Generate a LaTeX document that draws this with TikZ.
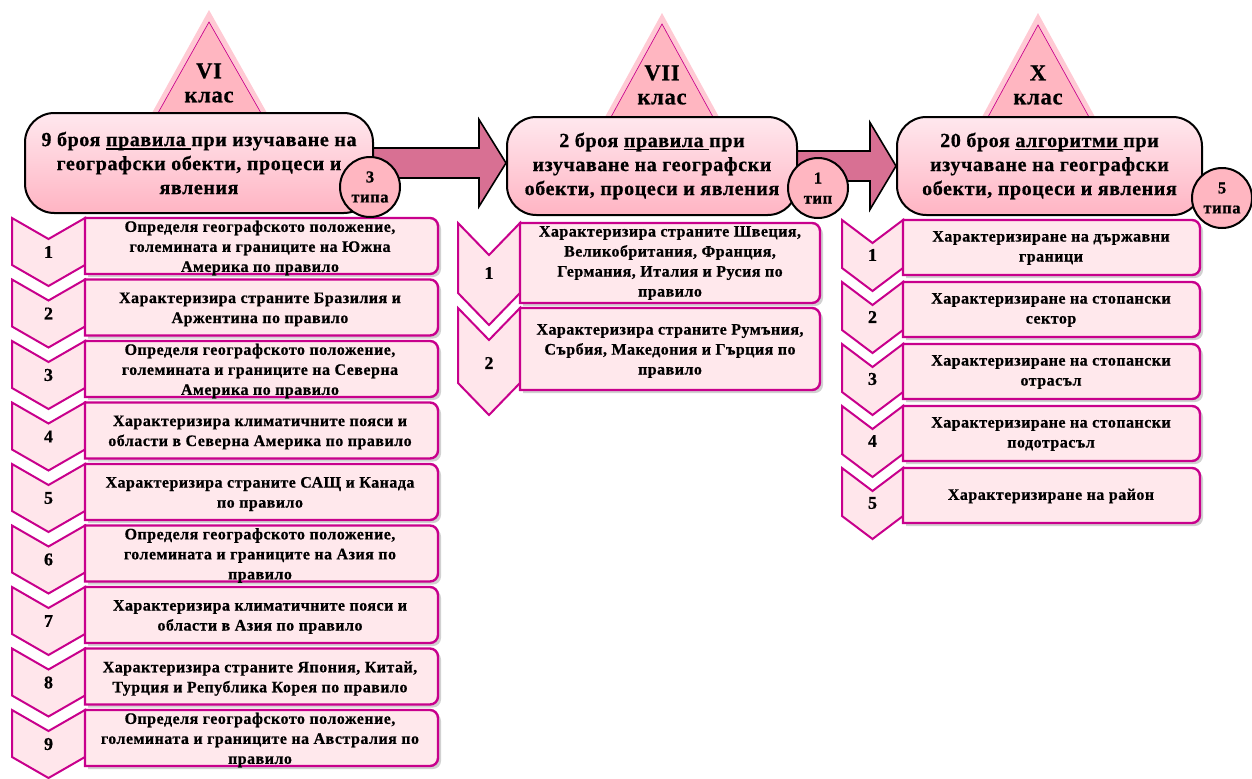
\documentclass[tikz,border=0pt]{standalone}
\usepackage{fontspec}
\setmainfont{Liberation Serif}
\newfontfamily\lsp[LetterSpace=3, BoldFeatures={FakeBold=0.6}]{Liberation Serif}
\newfontfamily\nsp[BoldFeatures={FakeBold=0.6}]{Liberation Serif}
\usetikzlibrary{calc}
\pgfdeclarelayer{bg}
\pgfsetlayers{bg,main}
\definecolor{mag}{HTML}{C8008C}
\definecolor{itemfill}{HTML}{FFE8EC}
\definecolor{chevfill}{HTML}{FFE6EB}
\definecolor{trifill}{HTML}{FFB6C1}
\definecolor{triglowc}{HTML}{FFCAD4}
\definecolor{hdrtop}{HTML}{FFE8EE}
\definecolor{hdrbot}{HTML}{FFB4C3}
\definecolor{circfill}{HTML}{FFB6C1}
\definecolor{arrowc}{HTML}{D87093}
\newcommand\itemfont{\lsp\bfseries\fontsize{12}{15}\selectfont}
\newcommand\hdrfont{\lsp\bfseries\fontsize{15}{18}\selectfont}
\newcommand\trifont{\lsp\bfseries\fontsize{17}{18}\selectfont}
\newcommand\circfont{\lsp\bfseries\fontsize{12.5}{15}\selectfont}
\newcommand\numfont{\nsp\bfseries\fontsize{13.5}{14}\selectfont}
\newcommand\ulx[1]{\setbox0\hbox{#1}\rlap{\rule[-2.6pt]{\wd0}{1.1pt}}\box0}
\newcommand\chev[5]{\draw[chevs] (#1,{-(#3)}) -- ({(#1+#2)/2},{-(#3)-(#5)}) -- (#2,{-(#3)}) -- (#2,{-(#3)-(#4)}) -- ({(#1+#2)/2},{-(#3)-(#4)-(#5)}) -- (#1,{-(#3)-(#4)}) -- cycle;}
\newcommand\ibox[4]{%
 \fill[ishadow] ({#1+3},{-(#2)-3}) -- ({#3+3-8},{-(#2)-3}) arc[start angle=90,end angle=0,radius=8] -- ({#3+3},{-(#4)-3+8}) arc[start angle=0,end angle=-90,radius=8] -- ({#1+3},{-(#4)-3}) -- cycle;
 \draw[iboxs] (#1,{-(#2)}) -- ({#3-8},{-(#2)}) arc[start angle=90,end angle=0,radius=8] -- (#3,{-(#4)+8}) arc[start angle=0,end angle=-90,radius=8] -- (#1,{-(#4)}) -- cycle;}
\begin{document}
\begin{tikzpicture}[x=0.75pt,y=0.75pt,
  tri/.style={fill=trifill, draw=mag, line width=0.5pt},
  triglow/.style={fill=triglowc},
  hdr/.style={draw=black, line width=1.5pt, rounded corners=22pt, top color=hdrtop, bottom color=hdrbot, align=center, font=\hdrfont, inner sep=0pt},
  circ/.style={circle, draw=black, line width=1.5pt, fill=circfill, minimum size=45pt, inner sep=0pt, align=center, font=\circfont},
  barrow/.style={fill=arrowc, draw=black, line width=1.2pt, line join=miter},
  chevs/.style={fill=chevfill, draw=mag, line width=1.5pt, line join=miter},
  iboxs/.style={fill=itemfill, draw=mag, line width=1.8pt},
  ishadow/.style={fill=black!18},
  itxt/.style={align=center, font=\itemfont, inner sep=0pt},
  num/.style={font=\numfont, inner sep=0pt},
  trtxt/.style={align=center, font=\trifont, inner sep=0pt}]
\useasboundingbox (0,0) rectangle (1252,-778);

% left column
\foreach \T [count=\i] in {218,279.5,341,402.5,464,525.5,587,648.5,710} {
  \chev{12}{85}{\T}{47}{21}
  \ibox{85}{\T}{438}{\T+56}
  \node[num] (ln\i) at (48.5,{-(\T+34)}) {\i};
}
\node[itxt] (l1) at (260,-248) {Определя географското положение,\\големината и границите на Южна\\Америка по правило};
\node[itxt] (l2) at (260,-309.5) {Характеризира страните Бразилия и\\Аржентина по правило};
\node[itxt] (l3) at (260,-371) {Определя географското положение,\\големината и границите на Северна\\Америка по правило};
\node[itxt] (l4) at (260,-432.5) {Характеризира климатичните пояси и\\области в Северна Америка по правило};
\node[itxt] (l5) at (260,-494) {Характеризира страните САЩ и Канада\\по правило};
\node[itxt] (l6) at (260,-555.5) {Определя географското положение,\\големината и границите на Азия по\\правило};
\node[itxt] (l7) at (260,-617) {Характеризира климатичните пояси и\\области в Азия по правило};
\node[itxt] (l8) at (260,-678.5) {Характеризира страните Япония, Китай,\\Турция и Република Корея по правило};
\node[itxt] (l9) at (260,-740) {Определя географското положение,\\големината и границите на Австралия по\\правило};

% middle column
\chev{458}{520}{223}{70}{32}
\ibox{520}{223}{820}{303}
\chev{458}{520}{308}{75}{32}
\ibox{520}{308}{820}{390}
\node[num] (mn1) at (489,-273) {1};
\node[num] (mn2) at (489,-363) {2};
\node[itxt] (m1) at (670,-263) {Характеризира страните Швеция,\\Великобритания, Франция,\\Германия, Италия и Русия по\\правило};
\node[itxt] (m2) at (670,-351) {Характеризира страните Румъния,\\Сърбия, Македония и Гърция по\\правило};

% right column
\foreach \T [count=\i] in {220,282,344,406,468} {
  \chev{842}{903}{\T}{48}{23}
  \ibox{903}{\T}{1200}{\T+55}
  \node[num] (rn\i) at (872.5,{-(\T+35)}) {\i};
}
\node[itxt] (r1) at (1051,-248) {Характеризиране на държавни\\граници};
\node[itxt] (r2) at (1051,-310) {Характеризиране на стопански\\сектор};
\node[itxt] (r3) at (1051,-372) {Характеризиране на стопански\\отрасъл};
\node[itxt] (r4) at (1051,-434) {Характеризиране на стопански\\подотрасъл};
\node[itxt] (r5) at (1051,-496) {Характеризиране на район};

% headers
\node[hdr, minimum width=261pt, minimum height=75pt] (h1) at (199,-163) {9 броя \ulx{правила\ }при изучаване на\\географски обекти, процеси и\\явления};
\node[hdr, minimum width=217.5pt, minimum height=73.5pt] (h2) at (652,-166) {2 броя \ulx{правила\ }при\\изучаване на географски\\обекти, процеси и явления};
\node[hdr, minimum width=228.75pt, minimum height=73.5pt] (h3) at (1049.5,-166) {20 броя \ulx{алгоритми\ }при\\изучаване на географски\\обекти, процеси и явления};

% circles
\node[circ] (c1) at (370,-187) {3\\типа};
\node[circ] (c2) at (818,-188) {1\\тип};
\node[circ] (c3) at (1222,-198) {5\\типа};

% triangles
\node[trtxt] (t1) at (209,-83) {VI\\клас};
\node[trtxt] (t2) at (662,-85) {VII\\клас};
\node[trtxt] (t3) at (1038,-85) {X\\клас};

\begin{pgfonlayer}{bg}
  \fill[triglow] (152,-113) -- (209,-10) -- (267,-113) -- cycle;
  \draw[tri] (158,-113) -- (209,-22) -- (261,-113) -- cycle;
  \fill[triglow] (605,-117) -- (662,-13) -- (719,-117) -- cycle;
  \draw[tri] (611,-117) -- (662,-24) -- (713,-117) -- cycle;
  \fill[triglow] (982,-117) -- (1038,-13) -- (1095,-117) -- cycle;
  \draw[tri] (988,-117) -- (1038,-25) -- (1089,-117) -- cycle;
  \coordinate (a1) at ($(h2.west)+(0,3)$);
  \draw[barrow] ($(a1)+(-147,15)$) -- ($(a1)+(-27,15)$) -- ($(a1)+(-27,43.5)$) -- (a1) -- ($(a1)+(-27,-43.5)$) -- ($(a1)+(-27,-15)$) -- ($(a1)+(-147,-15)$) -- cycle;
  \coordinate (a2) at (h3.west);
  \draw[barrow] ($(a2)+(-107,15)$) -- ($(a2)+(-26,15)$) -- ($(a2)+(-26,43.5)$) -- (a2) -- ($(a2)+(-26,-43.5)$) -- ($(a2)+(-26,-15)$) -- ($(a2)+(-107,-15)$) -- cycle;
\end{pgfonlayer}
\end{tikzpicture}
\end{document}
